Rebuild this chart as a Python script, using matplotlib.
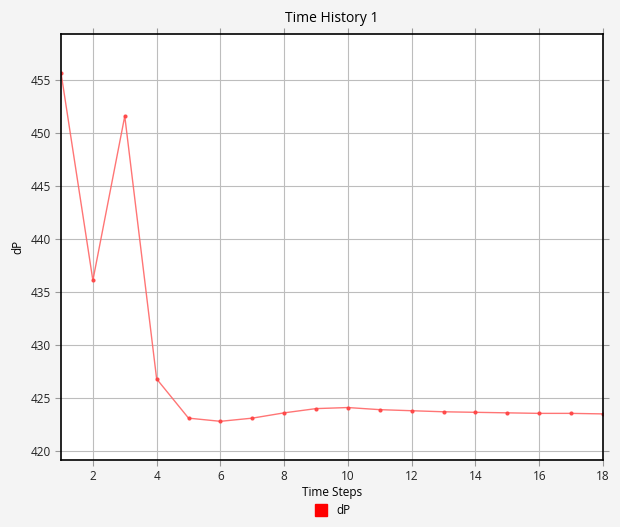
import matplotlib
matplotlib.use("Agg")
import matplotlib.pyplot as plt
from matplotlib.lines import Line2D

plt.rcParams['font.family'] = ['Open Sans', 'DejaVu Sans']

# data
steps = list(range(1, 19))
dP = [455.7, 436.1, 451.6, 426.8, 423.1, 422.8, 423.1, 423.6, 424.0,
      424.1, 423.9, 423.8, 423.7, 423.65, 423.6, 423.55, 423.55, 423.5]

xticks = [2, 4, 6, 8, 10, 12, 14, 16, 18]
yticks = [420, 425, 430, 435, 440, 445, 450, 455]

fig = plt.figure(figsize=(6.2, 5.27), dpi=100, facecolor='#f4f4f4')
ax = fig.add_axes([61/620, 1 - 460/527, (603-61)/620, (460-34)/527])
ax.set_facecolor('white')

ax.plot(steps, dP, color='#ff6666', lw=1, alpha=0.9,
        marker='o', ms=2, mfc='#ff4444', mec='#ff4444')

ax.set_xlim(1, 18)
ax.set_ylim(419.15, 459.35)
ax.set_xticks(xticks)
ax.set_yticks(yticks)
ax.grid(True, color='#bdbdbd', lw=0.8)
ax.set_axisbelow(True)
ax.tick_params(direction='out', length=4, color='#999999', labelsize=8.5,
               top=True, right=True, labelcolor='#222222')
for s in ax.spines.values():
    s.set_linewidth(1.2)
    s.set_color('black')

ax.set_title('Time History 1', fontsize=10, pad=9)
ax.set_xlabel('Time Steps', fontsize=8.5, labelpad=2)
ax.set_ylabel('dP', fontsize=8.5, labelpad=4)

h = Line2D([], [], ls='none', marker='s', ms=8, mfc='red', mec='red')
fig.legend([h], ['dP'], loc='center', bbox_to_anchor=(330/620, 1 - 511/527),
           frameon=False, fontsize=8.5, handletextpad=0.3)

fig.savefig('out.png', dpi=100, facecolor=fig.get_facecolor())
